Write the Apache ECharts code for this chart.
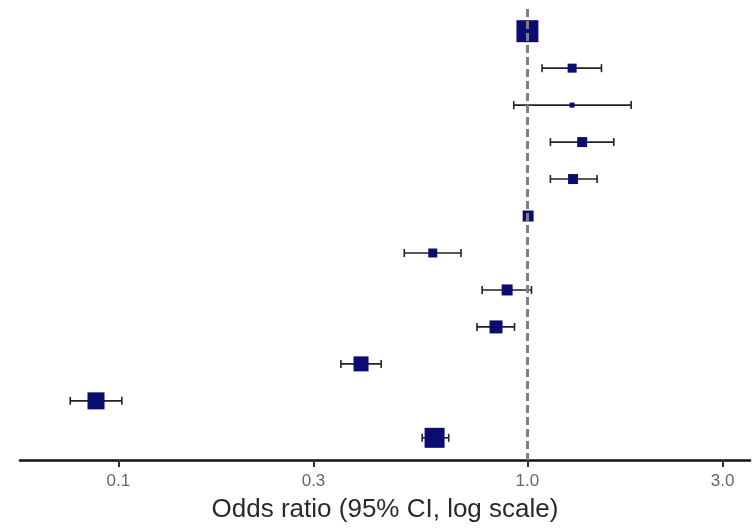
<!DOCTYPE html>
<html><head><meta charset="utf-8">
<script src="https://cdn.jsdelivr.net/npm/echarts@6/dist/echarts.min.js"></script>
<style>html,body{margin:0;padding:0;background:#fff}#c{width:753px;height:528px}</style>
</head><body><div id="c"></div>
<script>
const rows = ['r1','r2','r3','r4','r5','r6','r7','r8','r9','r10','r11','r12'];
const oddsRatio = [1.00, 1.286, 1.286, 1.361, 1.293, 1.004, 0.587, 0.892, 0.838, 0.392, 0.0882, 0.593];
const ciLow     = [0.99, 1.086, 0.926, 1.138, 1.138, 0.99, 0.500, 0.775, 0.753, 0.350, 0.0763, 0.553];
const ciHigh    = [1.01, 1.517, 1.793, 1.626, 1.480, 1.015, 0.688, 1.023, 0.930, 0.439, 0.102, 0.642];
const weights   = [22, 9, 5, 10, 10, 11, 9, 11, 13, 15, 17, 20];
const tickValues = [0.1, 0.3, 1, 3];
const refValue = 1;

const chart = echarts.init(document.getElementById('c'));
chart.setOption({
  animation:false,
  grid:{left:20,right:3,top:9,bottom:60},
  xAxis:{type:'log',min:0.0575,max:3.5,
    name:'Odds ratio (95% CI, log scale)',nameLocation:'middle',nameGap:37,
    nameTextStyle:{color:'#2a2a2a',fontSize:26,fontFamily:'Liberation Sans'},
    axisLine:{show:true,onZero:false,lineStyle:{color:'#111',width:2.5}},
    axisTick:{show:true,customValues:tickValues,length:7,lineStyle:{color:'#333',width:2}},
    axisLabel:{customValues:tickValues,color:'#666',fontSize:17,fontFamily:'Liberation Sans',margin:13,
      formatter:v=>Number(v).toFixed(1)},
    splitLine:{show:false},minorTick:{show:false}},
  yAxis:{type:'value',min:0.4,max:12.6,inverse:true,show:false,splitLine:{show:false}},
  series:[
    {type:'line',data:[],markLine:{silent:true,symbol:'none',label:{show:false},
      lineStyle:{color:'#808080',type:[8,4],width:3},data:[{xAxis:refValue}]},z:1},
    {type:'custom',z:2,data:rows.map((r,i)=>[ciLow[i],ciHigh[i],i+1]),
      renderItem:(params,api)=>{
        const a=api.coord([api.value(0),api.value(2)]);
        const b=api.coord([api.value(1),api.value(2)]);
        const h=4;
        const st={stroke:'#222',lineWidth:1.6};
        return {type:'group',children:[
          {type:'line',shape:{x1:a[0],y1:a[1],x2:b[0],y2:b[1]},style:st},
          {type:'line',shape:{x1:a[0],y1:a[1]-h,x2:a[0],y2:a[1]+h},style:st},
          {type:'line',shape:{x1:b[0],y1:b[1]-h,x2:b[0],y2:b[1]+h},style:st}]};
      }},
    {type:'scatter',z:3,symbol:'rect',data:rows.map((r,i)=>[oddsRatio[i],i+1,weights[i]]),
      symbolSize:d=>d[2],itemStyle:{color:'#0b0b72',opacity:1}}
  ]
});
</script></body></html>
